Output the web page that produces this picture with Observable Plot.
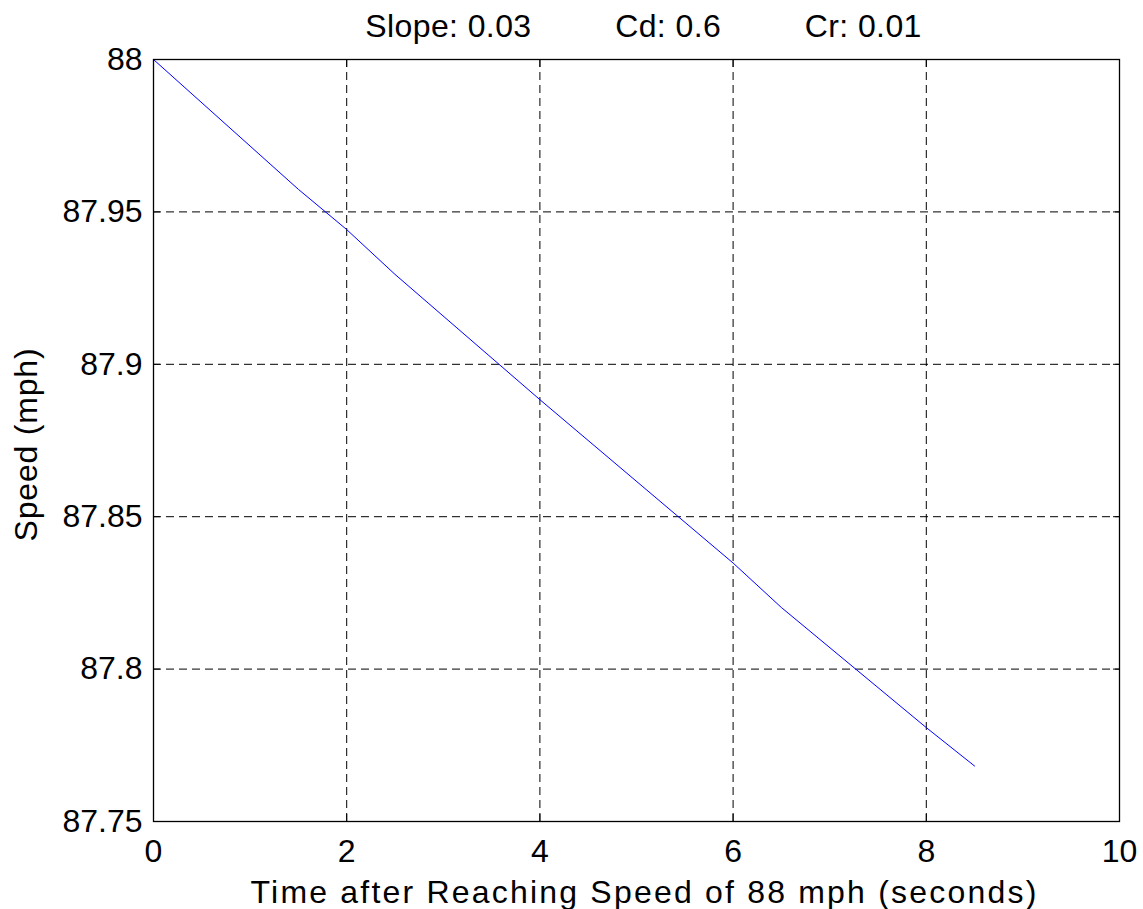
<!DOCTYPE html>
<html>
<head>
<meta charset="utf-8">
<script src="https://cdn.jsdelivr.net/npm/d3@7"></script>
<script src="https://cdn.jsdelivr.net/npm/@observablehq/plot@0.6"></script>
<style>
  html, body { margin: 0; padding: 0; background: #fff; }
</style>
</head>
<body>
<div id="chart"></div>
<script>
// Data
const timeSec = [0, 1.5, 2, 2.5, 4, 6, 6.5, 8, 8.5];
const speedMph = [88, 87.9574, 87.9442, 87.9295, 87.8884, 87.8348, 87.8202, 87.7808, 87.7682];

const xTicks = [0, 2, 4, 6, 8, 10];
const xTickLabels = ["0", "2", "4", "6", "8", "10"];
const yTicks = [87.75, 87.8, 87.85, 87.9, 87.95, 88];
const yTickLabels = ["87.75", "87.8", "87.85", "87.9", "87.95", "88"];

const gap = "\u00a0".repeat(9);
const titleText = "Slope: 0.03" + gap + "Cd: 0.6" + gap + "Cr: 0.01";
const xLabel = "Time after Reaching Speed of 88 mph (seconds)";
const yLabel = "Speed (mph)";

const data = timeSec.map((t, i) => ({t, v: speedMph[i]}));
const gridX = xTicks.filter(d => d > 0 && d < 10);
const gridY = yTicks.filter(d => d > 87.75 && d < 88);

const chart = Plot.plot({
  width: 1143,
  height: 909,
  marginLeft: 153,
  marginTop: 59,
  marginRight: 24,
  marginBottom: 88,
  style: {fontFamily: "'Liberation Sans', Arial, sans-serif", fontSize: "32px", background: "#fff", color: "#000"},
  x: {domain: [0, 10], axis: null},
  y: {domain: [87.75, 88], axis: null},
  marks: [
    Plot.ruleX(gridX, {stroke: "#000", strokeWidth: 1, strokeDasharray: "8,5"}),
    Plot.ruleY(gridY, {stroke: "#000", strokeWidth: 1, strokeDasharray: "8,5"}),
    // inner ticks on all four sides
    Plot.axisY({ticks: yTicks, anchor: "left", tickSize: 7, dx: 7, tickFormat: () => "", label: null}),
    Plot.axisY({ticks: yTicks, anchor: "right", tickSize: 7, dx: -7, tickFormat: () => "", label: null}),
    Plot.axisX({ticks: xTicks, anchor: "bottom", tickSize: 7, dy: -7, tickFormat: () => "", label: null}),
    Plot.axisX({ticks: xTicks, anchor: "top", tickSize: 7, dy: 7, tickFormat: () => "", label: null}),
    // tick labels
    Plot.axisY({ticks: yTicks, anchor: "left", tickSize: 0, tickPadding: 11, label: null,
      tickFormat: d => yTickLabels[yTicks.indexOf(d)]}),
    Plot.axisX({ticks: xTicks, anchor: "bottom", tickSize: 0, tickPadding: 18, label: null,
      tickFormat: d => xTickLabels[xTicks.indexOf(d)]}),
    Plot.line(data, {x: "t", y: "v", stroke: "#0000ff", strokeWidth: 1}),
    Plot.frame({stroke: "#000", strokeWidth: 1.3}),
    Plot.text([titleText], {frameAnchor: "top", textAnchor: "middle", lineAnchor: "middle", dy: -33, dx: 7, fill: "#000"}),
    Plot.text([xLabel], {frameAnchor: "bottom", textAnchor: "middle", lineAnchor: "middle", dy: 71, dx: 8, fill: "#000"}),
    Plot.text([yLabel], {frameAnchor: "left", textAnchor: "middle", lineAnchor: "middle", dx: -127, dy: 4, rotate: -90, fill: "#000"})
  ]
});
// Slightly wider glyph spacing as in the reference rendering
d3.select(chart).selectAll("text").each(function() {
  const t = this.textContent;
  if (t === xLabel) this.setAttribute("letter-spacing", "2.2");
  else if (t === yLabel) this.setAttribute("letter-spacing", "0.8");
  else if (t === titleText) this.setAttribute("letter-spacing", "0.4");
});
document.getElementById("chart").appendChild(chart);
</script>
</body>
</html>
